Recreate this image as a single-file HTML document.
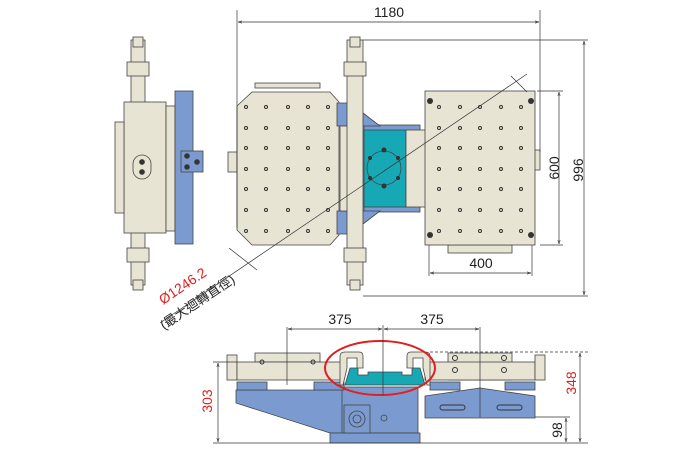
<!DOCTYPE html>
<html><head><meta charset="utf-8"><style>html,body{margin:0;padding:0;background:#fff}svg{display:block}</style></head><body>
<svg width="700" height="450" viewBox="0 0 700 450" xmlns="http://www.w3.org/2000/svg" font-family="Liberation Sans, Noto Sans CJK TC, sans-serif">
<defs>
<marker id="a" viewBox="0 0 10 10" refX="10" refY="5" markerWidth="6" markerHeight="6" orient="auto-start-reverse"><path d="M0,2 L10,5 L0,8" fill="none" stroke="#333" stroke-width="1.2"/></marker>
</defs>
<g stroke="#444" stroke-width="0.8">
<!-- left side view -->
<rect x="131" y="40" width="14" height="245" fill="#e8e4d4"/>
<rect x="127" y="62" width="22" height="14" fill="#e8e4d4"/>
<rect x="127" y="248" width="22" height="14" fill="#e8e4d4"/>
<rect x="133" y="37" width="10" height="10" fill="#e8e4d4"/>
<rect x="133" y="280" width="10" height="10" fill="#e8e4d4"/>
<rect x="124" y="102" width="42" height="131" fill="#e8e4d4"/>
<rect x="115" y="122" width="9" height="91" fill="#e8e4d4"/>
<rect x="166" y="106" width="9" height="125" fill="#e8e4d4"/>
<rect x="175" y="91" width="18" height="153" fill="#7b9bd0"/>
<rect x="181" y="151" width="22" height="21" fill="#7b9bd0"/>
<rect x="133" y="155" width="18" height="24" rx="9" fill="#e8e4d4"/>
<circle cx="142" cy="162" r="2.5" fill="#333"/><circle cx="142" cy="172" r="2.5" fill="#333"/>
<circle cx="187" cy="156" r="2.5" fill="#333"/><circle cx="187" cy="167" r="2.5" fill="#333"/><circle cx="197" cy="162" r="2.5" fill="#333"/>
<!-- top view left table -->
<rect x="255" y="83" width="65" height="5" fill="#e8e4d4"/>
<rect x="228" y="152" width="9" height="20" fill="#e8e4d4"/>
<path d="M252,92 L330,92 L339,102 L339,235 L330,245 L252,245 L237,230 L237,106 Z" fill="#e8e4d4"/>
<rect x="363" y="125" width="57" height="87" fill="#7b9bd0"/>
<path d="M337,103 L350,103 L380,126 L337,126 Z" fill="#7b9bd0"/>
<path d="M337,234 L350,234 L380,211 L337,211 Z" fill="#7b9bd0"/>
<rect x="340" y="126" width="24" height="85" fill="#e8e4d4"/>
<rect x="347" y="40" width="16" height="245" fill="#e8e4d4"/>
<rect x="344" y="62" width="22" height="14" fill="#e8e4d4"/>
<rect x="344" y="248" width="22" height="14" fill="#e8e4d4"/>
<rect x="350" y="37" width="10" height="10" fill="#e8e4d4"/>
<rect x="350" y="280" width="10" height="10" fill="#e8e4d4"/>
<rect x="364" y="130" width="42" height="77" fill="#16a9b5"/>
<rect x="406" y="130" width="20" height="77" fill="#e8e4d4"/>
<circle cx="384" cy="168" r="17" fill="none"/>
<!-- right table -->
<rect x="448" y="245" width="64" height="8" fill="#e8e4d4"/>
<rect x="532" y="150" width="8" height="20" fill="#e8e4d4"/>
<rect x="425" y="91" width="110" height="154" fill="#e8e4d4"/>
<!-- bottom view -->
<path d="M236,390 L343,390 L343,433 L330,433 L236,403 Z" fill="#7b9bd0"/>
<rect x="342" y="387" width="76" height="46" fill="#7b9bd0"/>
<rect x="330" y="433" width="90" height="10" fill="#7b9bd0"/>
<rect x="344" y="405" width="26" height="28" fill="#7b9bd0"/>
<circle cx="357" cy="419" r="8" fill="none"/><circle cx="357" cy="419" r="4" fill="none"/>
<circle cx="384" cy="418" r="3" fill="none"/>
<rect x="237" y="382" width="30" height="8" fill="#7b9bd0"/>
<rect x="314" y="382" width="30" height="8" fill="#7b9bd0"/>
<path d="M425,396 L480,388 L535,396 L535,418 L425,418 Z" fill="#7b9bd0"/>
<rect x="430" y="382" width="30" height="8" fill="#7b9bd0"/>
<rect x="505" y="382" width="30" height="8" fill="#7b9bd0"/>
<rect x="255" y="353" width="65" height="9" fill="#e8e4d4"/>
<rect x="227" y="355" width="10" height="25" fill="#e8e4d4"/>
<rect x="237" y="362" width="106" height="18" fill="#e8e4d4"/>
<rect x="448" y="353" width="64" height="27" fill="#e8e4d4"/>
<rect x="425" y="362" width="110" height="18" fill="#e8e4d4"/>
<rect x="535" y="355" width="10" height="25" fill="#e8e4d4"/>
<path d="M345,385 L350,368 L358,368 L358,375 L368,375 L368,372 L402,372 L402,375 L412,375 L412,368 L420,368 L425,385 Z" fill="#16a9b5"/>
<path d="M340,356 Q340,352 345,352 L359,352 Q363,352 363,356 L363,368 L357,368 L357,358 L347,358 L347,368 L343,385 L340,385 Z" fill="#e8e4d4"/>
<path d="M430,356 Q430,352 425,352 L411,352 Q407,352 407,356 L407,368 L413,368 L413,358 L423,358 L423,368 L427,385 L430,385 Z" fill="#e8e4d4"/>
<ellipse cx="380" cy="368" rx="55" ry="27" fill="none" stroke="#e02020" stroke-width="2"/>
</g>
<!-- holes -->
<g fill="none" stroke="#333" stroke-width="1">
<circle cx="246" cy="107" r="1.5"/><circle cx="266" cy="107" r="1.5"/><circle cx="288" cy="107" r="1.5"/><circle cx="308" cy="107" r="1.5"/><circle cx="328" cy="107" r="1.5"/>
<circle cx="246" cy="128" r="1.5"/><circle cx="266" cy="128" r="1.5"/><circle cx="288" cy="128" r="1.5"/><circle cx="308" cy="128" r="1.5"/><circle cx="328" cy="128" r="1.5"/>
<circle cx="246" cy="148" r="1.5"/><circle cx="266" cy="148" r="1.5"/><circle cx="288" cy="148" r="1.5"/><circle cx="308" cy="148" r="1.5"/><circle cx="328" cy="148" r="1.5"/>
<circle cx="246" cy="169" r="1.5"/><circle cx="266" cy="169" r="1.5"/><circle cx="288" cy="169" r="1.5"/><circle cx="308" cy="169" r="1.5"/><circle cx="328" cy="169" r="1.5"/>
<circle cx="246" cy="189" r="1.5"/><circle cx="266" cy="189" r="1.5"/><circle cx="288" cy="189" r="1.5"/><circle cx="308" cy="189" r="1.5"/><circle cx="328" cy="189" r="1.5"/>
<circle cx="246" cy="210" r="1.5"/><circle cx="266" cy="210" r="1.5"/><circle cx="288" cy="210" r="1.5"/><circle cx="308" cy="210" r="1.5"/><circle cx="328" cy="210" r="1.5"/>
<circle cx="246" cy="231" r="1.5"/><circle cx="266" cy="231" r="1.5"/><circle cx="288" cy="231" r="1.5"/><circle cx="308" cy="231" r="1.5"/><circle cx="328" cy="231" r="1.5"/>
<circle cx="439" cy="107" r="1.5"/><circle cx="460" cy="107" r="1.5"/><circle cx="480" cy="107" r="1.5"/><circle cx="501" cy="107" r="1.5"/><circle cx="521" cy="107" r="1.5"/>
<circle cx="439" cy="128" r="1.5"/><circle cx="460" cy="128" r="1.5"/><circle cx="480" cy="128" r="1.5"/><circle cx="501" cy="128" r="1.5"/><circle cx="521" cy="128" r="1.5"/>
<circle cx="439" cy="148" r="1.5"/><circle cx="460" cy="148" r="1.5"/><circle cx="480" cy="148" r="1.5"/><circle cx="501" cy="148" r="1.5"/><circle cx="521" cy="148" r="1.5"/>
<circle cx="439" cy="169" r="1.5"/><circle cx="460" cy="169" r="1.5"/><circle cx="480" cy="169" r="1.5"/><circle cx="501" cy="169" r="1.5"/><circle cx="521" cy="169" r="1.5"/>
<circle cx="439" cy="189" r="1.5"/><circle cx="460" cy="189" r="1.5"/><circle cx="480" cy="189" r="1.5"/><circle cx="501" cy="189" r="1.5"/><circle cx="521" cy="189" r="1.5"/>
<circle cx="439" cy="210" r="1.5"/><circle cx="460" cy="210" r="1.5"/><circle cx="480" cy="210" r="1.5"/><circle cx="501" cy="210" r="1.5"/><circle cx="521" cy="210" r="1.5"/>
<circle cx="439" cy="231" r="1.5"/><circle cx="460" cy="231" r="1.5"/><circle cx="480" cy="231" r="1.5"/><circle cx="501" cy="231" r="1.5"/><circle cx="521" cy="231" r="1.5"/>
<circle cx="262" cy="362" r="2"/><circle cx="313" cy="362" r="2"/><circle cx="455" cy="358" r="2.5"/><circle cx="504" cy="358" r="2.5"/><circle cx="455" cy="370" r="2.5"/><circle cx="504" cy="370" r="2.5"/>
<rect x="440" y="405" width="25" height="5" rx="2.5"/><rect x="497" y="405" width="25" height="5" rx="2.5"/>
</g>
<g fill="#333"><circle cx="430" cy="101" r="3"/><circle cx="531" cy="101" r="3"/><circle cx="430" cy="235" r="3"/><circle cx="531" cy="235" r="3"/>
<circle cx="384" cy="150" r="2.5"/><circle cx="384" cy="186" r="2.5"/><circle cx="370" cy="158" r="2"/><circle cx="398" cy="158" r="2"/><circle cx="370" cy="178" r="2"/><circle cx="398" cy="178" r="2"/></g>
<!-- dimension lines -->
<g stroke="#333" stroke-width="0.7" fill="none">
<line x1="237" y1="10" x2="237" y2="228"/><line x1="540" y1="10" x2="540" y2="152"/>
<line x1="238" y1="22" x2="539" y2="22" marker-start="url(#a)" marker-end="url(#a)"/>
<line x1="363" y1="40" x2="588" y2="40"/><line x1="363" y1="296" x2="588" y2="296"/>
<line x1="584" y1="41" x2="584" y2="295" marker-start="url(#a)" marker-end="url(#a)"/>
<line x1="537" y1="91" x2="563" y2="91"/><line x1="540" y1="245" x2="563" y2="245"/>
<line x1="559" y1="92" x2="559" y2="244" marker-start="url(#a)" marker-end="url(#a)"/>
<line x1="429" y1="245" x2="429" y2="276"/><line x1="532" y1="245" x2="532" y2="276"/>
<line x1="430" y1="273" x2="531" y2="273" marker-start="url(#a)" marker-end="url(#a)"/>
<line x1="160" y1="323" x2="527" y2="74"/>
<line x1="229" y1="248" x2="257" y2="270"/><line x1="511" y1="76" x2="527" y2="92"/>
<line x1="287" y1="327" x2="287" y2="385"/><line x1="480" y1="327" x2="480" y2="417"/><line x1="383" y1="325" x2="383" y2="395"/>
<line x1="288" y1="329" x2="382" y2="329" marker-start="url(#a)" marker-end="url(#a)"/>
<line x1="384" y1="329" x2="479" y2="329" marker-start="url(#a)" marker-end="url(#a)"/>
<line x1="213" y1="362" x2="237" y2="362"/><line x1="213" y1="443" x2="588" y2="443"/>
<line x1="218" y1="363" x2="218" y2="442" marker-start="url(#a)" marker-end="url(#a)"/>
<line x1="430" y1="352" x2="588" y2="352" stroke-dasharray="3,2"/>
<line x1="580" y1="353" x2="580" y2="442" marker-start="url(#a)" marker-end="url(#a)"/>
<line x1="535" y1="417" x2="570" y2="417"/>
<line x1="566" y1="418" x2="566" y2="442" marker-start="url(#a)" marker-end="url(#a)"/>
</g>
<g font-size="14" fill="#222">
<text x="389" y="17" text-anchor="middle">1180</text>
<text x="481" y="268" text-anchor="middle">400</text>
<text x="340" y="324" text-anchor="middle">375</text>
<text x="432" y="324" text-anchor="middle">375</text>
<text transform="translate(554,168) rotate(-90)" text-anchor="middle" dy="5">600</text>
<text transform="translate(578,170) rotate(-90)" text-anchor="middle" dy="5">996</text>
<text transform="translate(562,430) rotate(-90)" text-anchor="middle">98</text>
<text transform="translate(212,401) rotate(-90)" text-anchor="middle" fill="#e02020">303</text>
<text transform="translate(576,383) rotate(-90)" text-anchor="middle" fill="#e02020">348</text>
<text transform="translate(163,305) rotate(-34)" fill="#e02020">Ø1246.2</text>
<text transform="translate(164,330) rotate(-34)" font-size="13">(最大迴轉直徑)</text>
</g>
</svg>
</body></html>
